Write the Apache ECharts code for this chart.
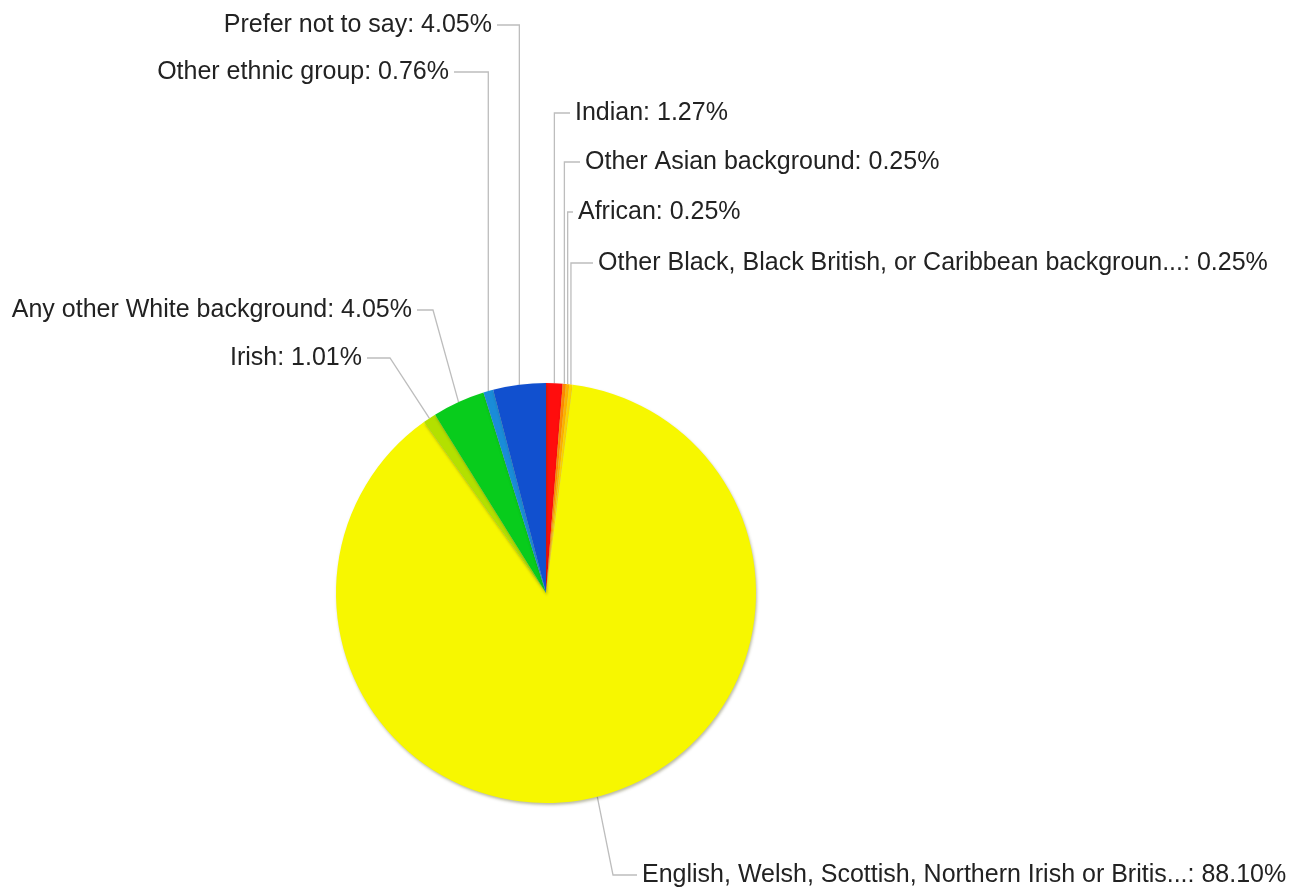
<!DOCTYPE html>
<html>
<head>
<meta charset="utf-8">
<script src="https://cdn.jsdelivr.net/npm/echarts@6/dist/echarts.min.js"></script>
<style>
  html, body { margin: 0; padding: 0; background: #ffffff; }
  #chart { width: 1291px; height: 891px; }
</style>
</head>
<body>
<div id="chart"></div>
<script>
// Ethnic background of respondents (percent of total), clockwise from 12 o'clock
const categories = [
  'Indian',
  'Other Asian background',
  'African',
  'Other Black, Black British, or Caribbean background',
  'English, Welsh, Scottish, Northern Irish or British',
  'Irish',
  'Any other White background',
  'Other ethnic group',
  'Prefer not to say'
];
const percentages = [1.27, 0.25, 0.25, 0.25, 88.10, 1.01, 4.05, 0.76, 4.05];
const sliceColors = [
  '#ff0d0d', '#ff8c00', '#ffb300', '#ffd500',
  '#f7f700', '#b3e000', '#08cc1c', '#1a8cd8', '#1150cf'
];

// Pie geometry
const PIE_CENTER = [546, 593];
const PIE_RADIUS = 210;

// Label placement: text edge x, text middle y, side, and optional elbow x of the leader line
const labelPlacement = {
  x:     [575, 585, 578, 598, 642, 362, 412, 449, 492],
  y:     [113, 162, 212, 263, 875, 358, 310, 72, 25],
  side:  ['left', 'left', 'left', 'left', 'left', 'right', 'right', 'right', 'right'],
  elbow: [null, null, null, null, 613, 390, 433, null, null]
};

const MAX_NAME = 50;
function shortName(name) {
  return name.length > MAX_NAME ? name.slice(0, MAX_NAME) + '...' : name;
}

// Fallback anchor on the outer rim at a slice's mid angle
function rimAnchor(index) {
  const total = percentages.reduce((a, b) => a + b, 0);
  let before = 0;
  for (let k = 0; k < index; k++) before += percentages[k];
  const mid = (before + percentages[index] / 2) / total * Math.PI * 2;
  return [PIE_CENTER[0] + PIE_RADIUS * Math.sin(mid), PIE_CENTER[1] - PIE_RADIUS * Math.cos(mid)];
}

const chart = echarts.init(document.getElementById('chart'), null, { renderer: 'canvas' });

chart.setOption({
  backgroundColor: '#ffffff',
  animation: false,
  series: [{
    type: 'pie',
    center: PIE_CENTER,
    radius: PIE_RADIUS,
    startAngle: 90,
    clockwise: true,
    avoidLabelOverlap: false,
    data: categories.map((name, i) => ({
      name: name,
      value: percentages[i],
      itemStyle: { color: sliceColors[i] }
    })),
    itemStyle: {
      borderWidth: 0,
      shadowColor: 'rgba(60, 60, 0, 0.35)',
      shadowBlur: 3,
      shadowOffsetX: 1,
      shadowOffsetY: 2
    },
    emphasis: { scale: false },
    label: {
      show: true,
      position: 'outside',
      color: '#222222',
      fontFamily: '"Liberation Sans", Arial, sans-serif',
      fontSize: 25,
      formatter: p => shortName(p.name) + ': ' + p.value.toFixed(2) + '%'
    },
    labelLine: {
      show: true,
      lineStyle: { color: '#bdbdbd', width: 1.3 }
    },
    labelLayout: function (params) {
      const i = params.dataIndex;
      const pts = params.labelLinePoints;
      const anchor = (pts && pts.length) ? pts[0] : rimAnchor(i);
      const y = labelPlacement.y[i];
      const tx = labelPlacement.x[i];
      const left = labelPlacement.side[i] === 'left';
      const ex = labelPlacement.elbow[i] != null ? labelPlacement.elbow[i] : anchor[0];
      const endX = left ? tx - 5 : tx + 5;
      return {
        x: tx,
        y: y,
        align: left ? 'left' : 'right',
        verticalAlign: 'middle',
        labelLinePoints: [[anchor[0], anchor[1]], [ex, y], [endX, y]]
      };
    }
  }]
});
</script>
</body>
</html>
